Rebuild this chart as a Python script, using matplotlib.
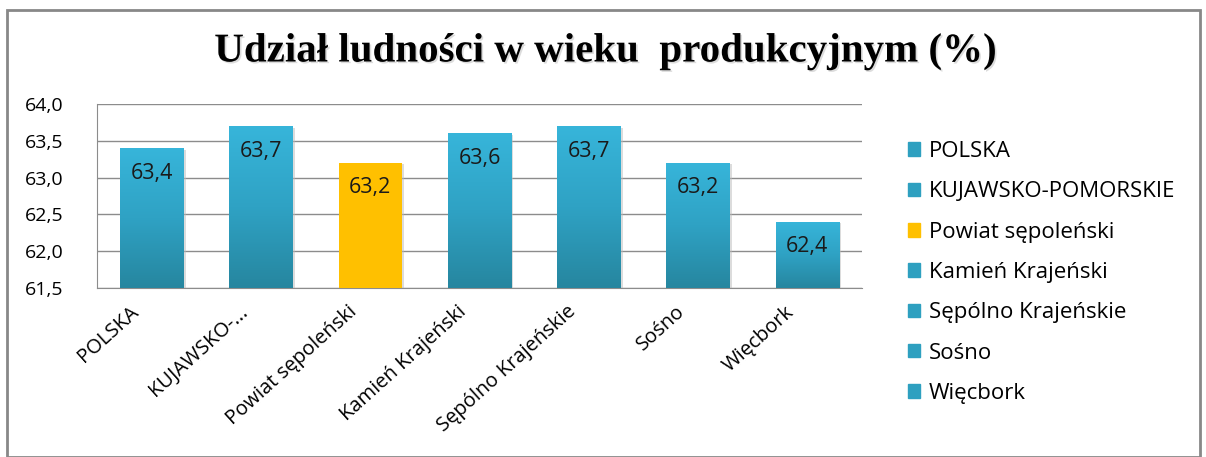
import numpy as np
import matplotlib.pyplot as plt
import matplotlib.transforms as mtransforms
import matplotlib.patheffects as pe
from matplotlib.patches import Rectangle
from matplotlib.colors import LinearSegmentedColormap

# dane
kategorie = ["POLSKA", "KUJAWSKO-POMORSKIE", "Powiat sępoleński", "Kamień Krajeński",
             "Sępólno Krajeńskie", "Sośno", "Więcbork"]
etykiety_osi = ["POLSKA", "KUJAWSKO-...", "Powiat sępoleński", "Kamień Krajeński",
                "Sępólno Krajeńskie", "Sośno", "Więcbork"]
wartosci = [63.4, 63.7, 63.2, 63.6, 63.7, 63.2, 62.4]
wyrozniony = [False, False, True, False, False, False, False]

TEAL_TOP = "#37B5DA"
TEAL_BOT = "#26869F"
YELLOW = "#FFC000"
FONT = "Open Sans"

fig = plt.figure(figsize=(12.06, 4.57), dpi=100)
ax = fig.add_axes([97/1206, 1-288/457, (862-97)/1206, (288-104)/457])

dol = 61.5
x = np.arange(len(kategorie))
szer = 0.58
cmap = LinearSegmentedColormap.from_list("teal", [TEAL_BOT, "#2FA2C4", TEAL_TOP])
grad = np.linspace(0, 1, 256).reshape(-1, 1)

for i in range(len(kategorie)):
    v = wartosci[i]
    # cien
    ax.add_patch(Rectangle((x[i]-szer/2+0.02, dol), szer, v-dol-0.02, color="#bbbbbb",
                           alpha=0.5, zorder=2, lw=0))
    if wyrozniony[i]:
        ax.bar(x[i], v-dol, bottom=dol, width=szer, color=YELLOW, zorder=3)
    else:
        b = ax.bar(x[i], v-dol, bottom=dol, width=szer, color="none", zorder=3)
        im = ax.imshow(grad, cmap=cmap, aspect="auto", origin="lower",
                       extent=[x[i]-szer/2, x[i]+szer/2, dol, v], zorder=3)
        im.set_clip_path(b.patches[0])
    ax.annotate(f"{v:.1f}".replace(".", ","), (x[i], v), xytext=(0, -18),
                textcoords="offset points", ha="center", va="center",
                fontsize=15.5, family=FONT, color="#1a1a1a", zorder=5)

ax.set_xlim(-0.5, len(kategorie)-0.5)
ax.set_ylim(61.5, 64.0)
ax.set_yticks(np.arange(61.5, 64.01, 0.5))
ax.set_yticklabels([f"{t:.1f}".replace(".", ",") for t in np.arange(61.5, 64.01, 0.5)],
                   family=FONT, fontsize=14)
ax.yaxis.grid(True, color="#8c8c8c", lw=1)
ax.set_axisbelow(True)
ax.tick_params(axis="y", length=0, pad=24)
ax.tick_params(axis="x", length=0, pad=10)
ax.set_xticks(x)
ax.set_xticklabels(etykiety_osi, rotation=42, ha="right", rotation_mode="anchor",
                   family=FONT, fontsize=14.5)
przes = mtransforms.ScaledTranslation(-16/72, 0, fig.dpi_scale_trans)
for lab in ax.get_xticklabels():
    lab.set_transform(lab.get_transform() + przes)
for s in ["top", "right"]:
    ax.spines[s].set_visible(False)
for s in ["left", "bottom"]:
    ax.spines[s].set_color("#8c8c8c")

# legenda
uchwyty = [Rectangle((0, 0), 1, 1, color=YELLOW if w else "#2EA0C0") for w in wyrozniony]
leg = fig.legend(uchwyty, kategorie, loc="upper left", bbox_to_anchor=(888/1206, 1-121/457),
                 frameon=False, prop={"family": FONT, "size": 16}, handlelength=0.55,
                 handleheight=0.55, handletextpad=0.4, labelspacing=0.87)

fig.text(0.502, 1-52/457, "Udział ludności w wieku  produkcyjnym (%)", ha="center",
         va="center", family="Liberation Serif", weight="bold", fontsize=29.5,
         path_effects=[pe.withSimplePatchShadow(offset=(1.2, -1.2), shadow_rgbFace="#bbbbbb",
                                                alpha=0.5)])

# ramka
fig.patches.append(Rectangle((7/1206, 0), 1193/1206, 1-10/457, transform=fig.transFigure,
                             fill=False, edgecolor="#888888", lw=2))

fig.savefig("out.png", dpi=100)
